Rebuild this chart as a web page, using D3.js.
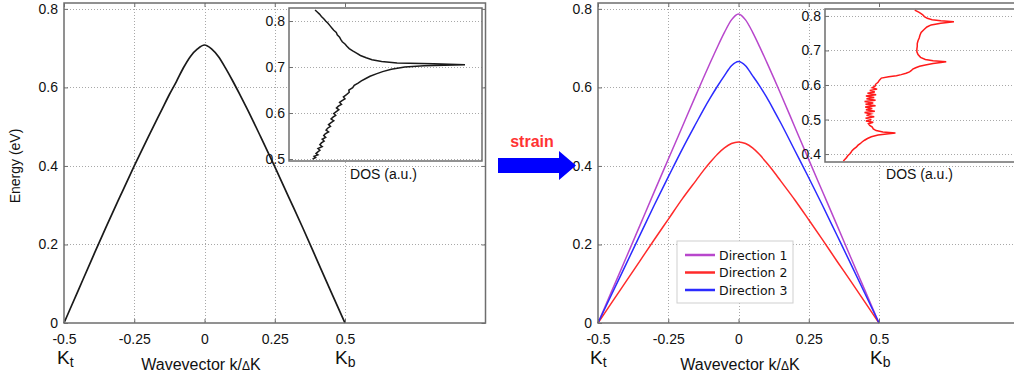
<!DOCTYPE html>
<html><head><meta charset="utf-8">
<script src="https://cdn.jsdelivr.net/npm/d3@7"></script>
<style>
body{margin:0;background:#fff;}
text{font-family:"Liberation Sans",Arial,sans-serif;}
</style></head>
<body><svg id="c" width="1014" height="379"></svg>
<script>
// ---------- data ----------
const kValues = [-0.5,-0.45,-0.4,-0.35,-0.3,-0.25,-0.2,-0.15,-0.125,-0.1,-0.075,-0.05,-0.025,0,0.025,0.05,0.075,0.1,0.125,0.15,0.2,0.25,0.3,0.35,0.4,0.45,0.5];
const energyUnstrained = [0,0.082,0.164,0.245,0.323,0.4,0.474,0.546,0.582,0.615,0.65,0.679,0.698,0.708,0.698,0.678,0.649,0.617,0.583,0.548,0.474,0.398,0.32,0.242,0.161,0.08,0];
const energyDir1 = [0,0.083,0.166,0.25,0.334,0.417,0.5,0.583,0.624,0.664,0.703,0.74,0.772,0.787,0.772,0.741,0.704,0.665,0.625,0.584,0.5,0.416,0.333,0.25,0.166,0.083,0];
const energyDir2 = [0,0.053,0.106,0.159,0.212,0.264,0.316,0.364,0.388,0.41,0.43,0.446,0.457,0.461,0.457,0.446,0.429,0.408,0.386,0.362,0.314,0.263,0.211,0.158,0.106,0.053,0];
const energyDir3 = [0,0.075,0.15,0.225,0.3,0.372,0.443,0.51,0.543,0.574,0.603,0.63,0.655,0.666,0.655,0.63,0.604,0.575,0.543,0.51,0.44,0.37,0.298,0.224,0.15,0.075,0];

const dosEnergyLeft = [0.500,0.503,0.506,0.509,0.512,0.515,0.519,0.523,0.527,0.531,0.535,0.539,0.543,0.547,0.551,0.555,0.559,0.563,0.567,0.571,0.575,0.579,0.583,0.587,0.591,0.595,0.599,0.603,0.607,0.611,0.615,0.619,0.623,0.627,0.631,0.635,0.640,0.645,0.650,0.655,0.660,0.665,0.670,0.675,0.680,0.685,0.690,0.695,0.700,0.703,0.705,0.707,0.709,0.712,0.716,0.720,0.725,0.730,0.735,0.740,0.745,0.750,0.755,0.760,0.765,0.770,0.775,0.780,0.785,0.790,0.795,0.800,0.805,0.810,0.815,0.820,0.824];
const dosValueLeft = [0.122,0.138,0.130,0.150,0.140,0.148,0.160,0.150,0.172,0.160,0.168,0.182,0.172,0.190,0.180,0.188,0.205,0.192,0.200,0.215,0.205,0.218,0.232,0.218,0.228,0.242,0.232,0.245,0.258,0.246,0.256,0.272,0.262,0.275,0.290,0.282,0.298,0.312,0.310,0.330,0.338,0.358,0.375,0.398,0.420,0.452,0.485,0.530,0.600,0.700,0.912,0.750,0.560,0.480,0.430,0.400,0.370,0.350,0.330,0.312,0.300,0.290,0.276,0.268,0.262,0.250,0.245,0.232,0.222,0.212,0.202,0.190,0.180,0.168,0.158,0.145,0.135];

const dosEnergyRight = [0.380,0.390,0.395,0.400,0.405,0.410,0.415,0.420,0.425,0.430,0.435,0.440,0.445,0.450,0.455,0.459,0.461,0.464,0.468,0.473,0.478,0.483,0.488,0.492,0.496,0.500,0.504,0.508,0.512,0.516,0.520,0.524,0.528,0.532,0.536,0.540,0.544,0.548,0.552,0.556,0.560,0.564,0.568,0.572,0.576,0.580,0.584,0.588,0.592,0.597,0.602,0.608,0.614,0.620,0.624,0.627,0.630,0.634,0.638,0.642,0.646,0.650,0.654,0.658,0.662,0.665,0.667,0.670,0.674,0.680,0.688,0.696,0.704,0.712,0.720,0.728,0.736,0.744,0.752,0.760,0.768,0.774,0.779,0.783,0.786,0.789,0.793,0.798,0.804,0.810,0.817];
const dosValueRight = [0.095,0.112,0.118,0.128,0.135,0.140,0.150,0.162,0.170,0.182,0.192,0.205,0.220,0.240,0.275,0.330,0.365,0.300,0.265,0.250,0.245,0.232,0.225,0.250,0.212,0.240,0.210,0.255,0.215,0.238,0.205,0.258,0.212,0.245,0.208,0.262,0.210,0.250,0.205,0.262,0.215,0.255,0.212,0.265,0.220,0.258,0.232,0.270,0.245,0.260,0.262,0.275,0.282,0.292,0.330,0.370,0.395,0.420,0.438,0.448,0.455,0.470,0.490,0.520,0.560,0.600,0.628,0.560,0.520,0.495,0.482,0.476,0.476,0.478,0.478,0.482,0.488,0.492,0.498,0.512,0.528,0.550,0.600,0.668,0.600,0.555,0.530,0.515,0.505,0.488,0.465];

const xTicks = [-0.5,-0.25,0,0.25,0.5];
const xTickLabels = ["-0.5","-0.25","0","0.25","0.5"];
const yTicks = [0,0.2,0.4,0.6,0.8];
const yTickLabels = ["0","0.2","0.4","0.6","0.8"];
const insetTicksLeft = [0.5,0.6,0.7,0.8];
const insetTicksRight = [0.4,0.5,0.6,0.7,0.8];
const seriesNames = ["Direction 1","Direction 2","Direction 3"];
const seriesColors = ["#b847cc","#ff2a2a","#2b2bff"];

// ---------- drawing ----------
const svg = d3.select("#c");
svg.append("rect").attr("width",1014).attr("height",379).attr("fill","#fff");
const FRAME="#6e6e6e", GRID="#a8a8a8";
const px = v => Math.round(v)+0.5;

function gridLines(g, x, y, xt, yt, x0, x1, y0, y1){
  g.append("g").selectAll("line").data(xt.filter(d=>d>x.domain()[0])).join("line")
    .attr("x1",d=>px(x(d))).attr("x2",d=>px(x(d))).attr("y1",y0).attr("y2",y1)
    .attr("stroke",GRID).attr("stroke-dasharray","1,2").attr("shape-rendering","crispEdges");
  g.append("g").selectAll("line").data(yt.filter(d=>d>y.domain()[0])).join("line")
    .attr("y1",d=>px(y(d))).attr("y2",d=>px(y(d))).attr("x1",x0).attr("x2",x1)
    .attr("stroke",GRID).attr("stroke-dasharray","1,2").attr("shape-rendering","crispEdges");
}
function frame(g,x0,x1,y0,y1){
  g.append("rect").attr("x",x0).attr("y",y0).attr("width",x1-x0).attr("height",y1-y0)
    .attr("fill","none").attr("stroke",FRAME).attr("stroke-width",1.5);
}
function styleAxis(a){
  a.select(".domain").remove();
  a.selectAll(".tick line").attr("stroke",FRAME);
  a.selectAll("text").style("font-size","14px").style("font-family","'Liberation Sans',Arial,sans-serif").style("fill","#111");
}

function mainPanel(xRange, curves, colors, widths){
  const x = d3.scaleLinear().domain([-0.5,1]).range(xRange);
  const y = d3.scaleLinear().domain([0,0.815]).range([323,3]);
  const g = svg.append("g");
  const x0=x(-0.5), x1=x(1), y0=y(0.815), y1=y(0);
  gridLines(g,x,y,xTicks,yTicks,x0,x1,y0,y1);
  const line = d3.line().x((d,i)=>x(kValues[i])).y(d=>y(d)).curve(d3.curveMonotoneX);
  curves.forEach((c,i)=>{
    g.append("path").attr("d",line(c)).attr("fill","none")
      .attr("stroke",colors[i]).attr("stroke-width",widths);
  });
  const ax = g.append("g").attr("transform",`translate(0,${y1})`)
    .call(d3.axisBottom(x).tickValues(xTicks).tickFormat((d,i)=>xTickLabels[i]).tickSizeInner(-4).tickSizeOuter(0).tickPadding(11));
  const ay = g.append("g").attr("transform",`translate(${x0},0)`)
    .call(d3.axisLeft(y).tickValues(yTicks).tickFormat((d,i)=>yTickLabels[i]).tickSizeInner(-4).tickSizeOuter(0).tickPadding(6));
  const axT = g.append("g").attr("transform",`translate(0,${y0})`)
    .call(d3.axisTop(x).tickValues(xTicks).tickFormat("").tickSizeInner(-4).tickSizeOuter(0));
  const ayR = g.append("g").attr("transform",`translate(${x1},0)`)
    .call(d3.axisRight(y).tickValues(yTicks).tickFormat("").tickSizeInner(-4).tickSizeOuter(0));
  [ax,ay,axT,ayR].forEach(styleAxis);
  frame(g,x0,x1,y0,y1);
  return {x,y,g};
}

function inset(g, x0, x1, yDomain, yRange, ticks, dosE, dosV, color){
  const x = d3.scaleLinear().domain([0,1]).range([x0,x1]);
  const y = d3.scaleLinear().domain(yDomain).range(yRange);
  const gi = g.append("g");
  gi.append("rect").attr("x",x0).attr("y",yRange[1]).attr("width",x1-x0).attr("height",yRange[0]-yRange[1]).attr("fill","#fff");
  gi.append("g").selectAll("line").data(ticks).join("line")
    .attr("x1",x0).attr("x2",x1).attr("y1",d=>px(y(d))).attr("y2",d=>px(y(d)))
    .attr("stroke",GRID).attr("stroke-dasharray","1,2").attr("shape-rendering","crispEdges");
  const line = d3.line().x((d,i)=>x(dosV[i])).y(d=>y(d));
  gi.append("path").attr("d",line(dosE)).attr("fill","none").attr("stroke",color).attr("stroke-width",1.5);
  const ay = gi.append("g").attr("transform",`translate(${x0},0)`)
    .call(d3.axisLeft(y).tickValues(ticks).tickFormat(d3.format(".1f")).tickSizeInner(-4).tickSizeOuter(0).tickPadding(4));
  styleAxis(ay);
  frame(gi,x0,x1,yRange[1],yRange[0]);
  gi.append("text").attr("x",(x0+x1)/2-2).attr("y",179).attr("text-anchor","middle")
    .style("font-size","14px").style("fill","#111").text("DOS (a.u.)");
}

function kLabels(g, xK1, xK2){
  [[xK1,"t"],[xK2,"b"]].forEach(([xx,s])=>{
    const t = g.append("text").attr("x",xx).attr("y",364).style("font-size","19px").style("fill","#111");
    t.append("tspan").text("K");
    t.append("tspan").attr("dy",3).style("font-size","14px").text(s);
  });
}
function xTitle(g, cx){
  const t = g.append("text").attr("x",cx).attr("y",370).attr("text-anchor","middle").style("font-size","16px").style("fill","#111");
  t.append("tspan").text("Wavevector k/");
  t.append("tspan").style("font-size","12px").text("Δ");
  t.append("tspan").text("K");
}

// left panel
const L = mainPanel([64,485.5],[energyUnstrained],["#1a1a1a"],1.7);
inset(L.g,289,482,[0.4957,0.8283],[161,8],insetTicksLeft,dosEnergyLeft,dosValueLeft,"#1a1a1a");
kLabels(L.g,57,335);
xTitle(L.g,201);
L.g.append("text").attr("transform","translate(20,166) rotate(-90)").attr("text-anchor","middle")
  .style("font-size","14px").style("fill","#111").text("Energy (eV)");

// right panel
const R = mainPanel([598,1019.5],[energyDir1,energyDir2,energyDir3],seriesColors,1.5);
inset(R.g,825,1018,[0.377,0.82],[162,9],insetTicksRight,dosEnergyRight,dosValueRight,"#ff1a1a");
kLabels(R.g,590,870);
xTitle(R.g,740);

// legend
const lg = R.g.append("g");
lg.append("rect").attr("x",677).attr("y",241).attr("width",116).attr("height",62)
  .attr("fill","#fff").attr("stroke","#cfcfcf");
seriesNames.forEach((n,i)=>{
  const yy = 255 + i*17.5;
  lg.append("line").attr("x1",685).attr("x2",715).attr("y1",yy).attr("y2",yy)
    .attr("stroke",seriesColors[i]).attr("stroke-width",2.5);
  lg.append("text").attr("x",719).attr("y",yy+4.5).style("font-size","12.5px")
    .style("font-family","'DejaVu Sans',sans-serif").style("fill","#111").text(n);
});

// strain arrow
svg.append("path").attr("d","M498,158 L559,158 L559,151 L576,165.5 L559,180 L559,173 L498,173 Z").attr("fill","#0000ff");
svg.append("text").attr("x",532).attr("y",147).attr("text-anchor","middle")
  .style("font-size","16px").style("font-weight","bold").style("fill","#ff3333").text("strain");
</script></body></html>
